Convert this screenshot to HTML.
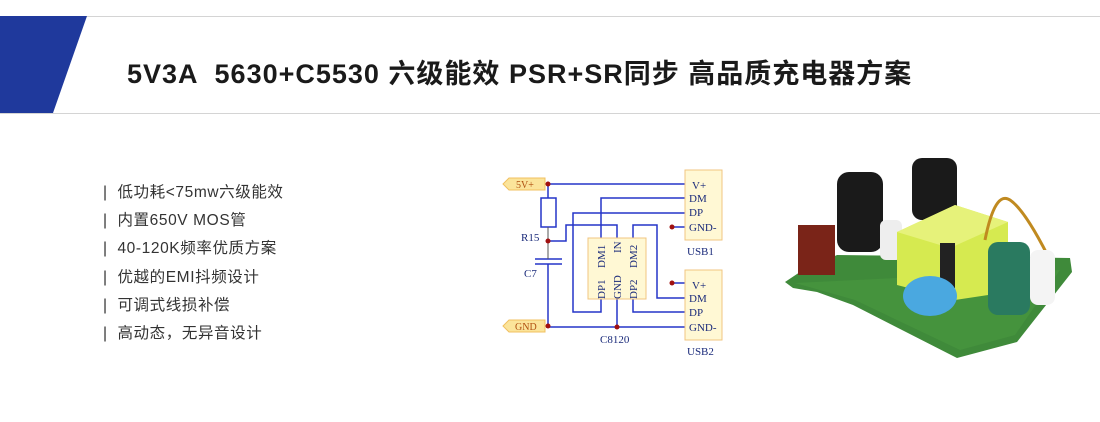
<!DOCTYPE html>
<html><head><meta charset="utf-8"><style>
body{margin:0;width:1100px;height:422px;background:#fff;overflow:hidden;position:relative;font-family:"Liberation Sans","Noto Sans CJK SC",sans-serif}
.hl{position:absolute;left:0;width:1100px;height:1px;background:#d4d4d4}
.title{position:absolute;left:127px;top:52px;font-size:27px;font-weight:bold;color:#1a1a1a;white-space:pre;letter-spacing:1px}
.li{position:absolute;left:103px;font-size:15.5px;color:#333;white-space:pre;letter-spacing:0.6px}
</style></head><body>
<div class="hl" style="top:16px"></div>
<div class="hl" style="top:113px"></div>
<svg style="position:absolute;left:0;top:0" width="100" height="120"><polygon points="0,16 87,16 53,113 0,113" fill="#1f399c"/></svg>
<div class="title">5V3A  5630+C5530 六级能效 PSR+SR同步 高品质充电器方案</div>
<div class="li" style="top:180px">|  低功耗&lt;75mw六级能效</div>
<div class="li" style="top:208px">|  内置650V MOS管</div>
<div class="li" style="top:236px">|  40-120K频率优质方案</div>
<div class="li" style="top:265px">|  优越的EMI抖频设计</div>
<div class="li" style="top:293px">|  可调式线损补偿</div>
<div class="li" style="top:321px">|  高动态，无异音设计</div>
<svg style="position:absolute;left:0;top:0" width="1100" height="422" font-family="Liberation Serif,serif">
<g fill="none" stroke="#2535c8" stroke-width="1.5">
<line x1="545" y1="184" x2="685" y2="184"/>
<line x1="548" y1="184" x2="548" y2="198"/>
<line x1="548" y1="264" x2="548" y2="326"/>
<polyline points="601,238 601,198 685,198"/>
<polyline points="685,213 573,213 573,312 601,312 601,299"/>
<polyline points="617,238 617,225 566,225 566,241 548,241"/>
<polyline points="633,238 633,225 657,225 657,298 685,298"/>
<polyline points="633,299 633,312 685,312"/>
<line x1="617" y1="299" x2="617" y2="327"/>
<line x1="546" y1="327" x2="685" y2="327"/>
<line x1="672" y1="227" x2="685" y2="227"/>
<line x1="672" y1="283" x2="685" y2="283"/>
</g>
<rect x="541" y="198" width="15" height="29" fill="#fff" stroke="#2535c8" stroke-width="1.5"/>
<line x1="535" y1="259" x2="562" y2="259" stroke="#2535c8" stroke-width="1.5"/>
<line x1="535" y1="264" x2="562" y2="264" stroke="#2535c8" stroke-width="1.5"/>
<line x1="548" y1="227" x2="548" y2="259" stroke="#555" stroke-width="1"/>
<rect x="588" y="238" width="58" height="61" fill="#fff8d4" stroke="#f0c680"/>
<rect x="685" y="170" width="37" height="70" fill="#fff8d4" stroke="#f0c680"/>
<rect x="685" y="270" width="37" height="70" fill="#fff8d4" stroke="#f0c680"/>
<polygon points="503,184 509,178 545,178 545,190 509,190" fill="#fbe49a" stroke="#f0c060"/>
<polygon points="503,326 509,320 545,320 545,332 509,332" fill="#fbe49a" stroke="#f0c060"/>
<g fill="#a01010"><circle cx="548" cy="184" r="2.5"/><circle cx="548" cy="241" r="2.5"/><circle cx="548" cy="326" r="2.5"/><circle cx="617" cy="327" r="2.5"/><circle cx="672" cy="227" r="2.5"/><circle cx="672" cy="283" r="2.5"/></g>
<g font-size="10" fill="#b05010"><text x="516" y="188">5V+</text><text x="515" y="330">GND</text></g>
<g font-size="11" fill="#1a2a7a">
<text x="692" y="189">V+</text><text x="689" y="202">DM</text><text x="689" y="216">DP</text><text x="689" y="231">GND-</text>
<text x="692" y="289">V+</text><text x="689" y="302">DM</text><text x="689" y="316">DP</text><text x="689" y="331">GND-</text>
<text x="687" y="255">USB1</text><text x="687" y="355">USB2</text>
<text x="600" y="343">C8120</text><text x="521" y="241">R15</text><text x="524" y="277">C7</text>
<g transform="rotate(-90)"><text x="-299" y="605">DP1</text><text x="-299" y="621">GND</text><text x="-299" y="637">DP2</text>
<text x="-268" y="605">DM1</text><text x="-253" y="621">IN</text><text x="-268" y="637">DM2</text></g>
</g>
<polygon points="785,282 800,272 837,255 1070,258 1072,272 1017,342 957,358 853,305 817,292 793,288" fill="#3f8a3a"/>
<polygon points="795,283 1060,270 1015,335 960,350 855,300" fill="#4a9a40" opacity=".6"/>
<rect x="798" y="225" width="37" height="50" fill="#7a2418"/>
<rect x="837" y="172" width="46" height="80" rx="12" fill="#1a1a1a"/>
<rect x="912" y="158" width="45" height="62" rx="10" fill="#1a1a1a"/>
<rect x="880" y="220" width="22" height="40" rx="6" fill="#eee"/>
<polygon points="897,232 955,205 1008,222 1008,292 955,300 897,285" fill="#d6ea50"/>
<polygon points="897,232 955,205 1008,222 950,248" fill="#e6f27a"/>
<rect x="940" y="243" width="15" height="45" fill="#222"/>
<path d="M985 240 Q995 190 1010 200 Q1025 210 1050 260" stroke="#c08a20" stroke-width="3" fill="none"/>
<rect x="988" y="242" width="42" height="73" rx="10" fill="#2a7a60"/>
<rect x="1030" y="250" width="25" height="55" rx="8" fill="#f4f4f4"/>
<ellipse cx="930" cy="296" rx="27" ry="20" fill="#4aa8e0"/>
</svg>
</body></html>
